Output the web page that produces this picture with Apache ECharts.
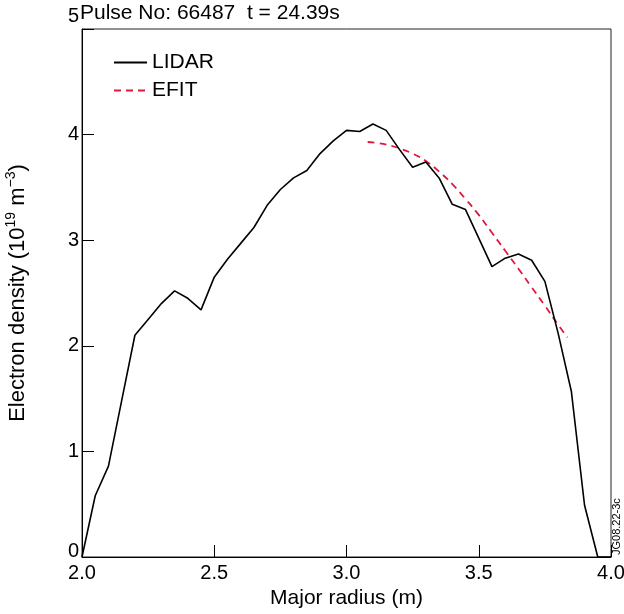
<!DOCTYPE html>
<html>
<head>
<meta charset="utf-8">
<title>Pulse No: 66487</title>
<script src="https://cdn.jsdelivr.net/npm/echarts@6/dist/echarts.min.js"></script>
<style>
  html, body { margin: 0; padding: 0; background: #fff; }
  #chart { width: 624px; height: 614px; }
</style>
</head>
<body>
<div id="chart"></div>
<script>
// LIDAR profile (major radius in m, density in 1e19 m^-3)
const lidarR = [2.00, 2.05, 2.10, 2.15, 2.20, 2.25, 2.30, 2.35, 2.40, 2.45,
  2.50, 2.55, 2.60, 2.65, 2.70, 2.75, 2.80, 2.85, 2.90, 2.95,
  3.00, 3.05, 3.10, 3.15, 3.20, 3.25, 3.30, 3.35, 3.40, 3.45,
  3.50, 3.55, 3.60, 3.65, 3.70, 3.75, 3.80, 3.85, 3.90, 3.95, 4.00]
const lidarNe = [0.00, 0.58, 0.86, 1.48, 2.10, 2.25, 2.40, 2.52, 2.45, 2.34,
  2.65, 2.82, 2.97, 3.12, 3.33, 3.48, 3.59, 3.66, 3.82, 3.94,
  4.04, 4.03, 4.10, 4.04, 3.86, 3.69, 3.74, 3.59, 3.34, 3.29,
  3.02, 2.75, 2.83, 2.87, 2.81, 2.61, 2.12, 1.57, 0.49, 0.00, 0.00]

// EFIT profile
const efitR = [3.08, 3.12, 3.16, 3.20, 3.25, 3.30, 3.35, 3.40, 3.45,
  3.50, 3.55, 3.60, 3.65, 3.70, 3.75, 3.80, 3.835]
const efitNe = [3.93, 3.92, 3.90, 3.87, 3.82, 3.75, 3.65, 3.53, 3.39,
  3.24, 3.07, 2.90, 2.73, 2.555, 2.38, 2.20, 2.08]

const xTicks = [2.0, 2.5, 3.0, 3.5, 4.0]
const yTicks = [0, 1, 2, 3, 4, 5]

const FONT = 'Liberation Sans'

let myChart = echarts.init(document.getElementById('chart'))

let option = {
  backgroundColor: '#fff',
  animation: false,
  textStyle: { fontFamily: FONT, color: '#000' },
  title: {
    text: 'Pulse No: 66487  t = 24.39s',
    left: 80,
    top: 3,
    padding: 0,
    textStyle: { fontFamily: FONT, fontSize: 21, fontWeight: 'normal', color: '#000' }
  },
  grid: {
    left: 82,
    right: 13,
    top: 29,
    bottom: 57,
    outerBoundsMode: 'none',
    containLabel: false,
    show: true,
    borderColor: '#222',
    borderWidth: 1
  },
  legend: {
    orient: 'vertical',
    left: 113,
    top: 52,
    padding: 0,
    itemWidth: 33,
    itemHeight: 14,
    itemGap: 7,
    itemStyle: { opacity: 0 },
    textStyle: { fontFamily: FONT, fontSize: 21, lineHeight: 21, color: '#000' },
    data: ['LIDAR', 'EFIT']
  },
  xAxis: {
    type: 'value',
    min: xTicks[0],
    max: xTicks[xTicks.length - 1],
    interval: 0.5,
    name: 'Major radius (m)',
    nameLocation: 'middle',
    nameGap: 28,
    nameTextStyle: { fontFamily: FONT, fontSize: 21, color: '#000' },
    axisLine: { lineStyle: { color: '#000', width: 1 } },
    axisTick: { inside: true, length: 12, lineStyle: { color: '#000' } },
    axisLabel: {
      fontFamily: FONT,
      fontSize: 20,
      color: '#000',
      margin: 6,
      formatter: (v) => v.toFixed(1)
    },
    splitLine: { show: false }
  },
  yAxis: {
    type: 'value',
    min: yTicks[0],
    max: yTicks[yTicks.length - 1],
    interval: 1,
    name: 'Electron density (10{sup|19} m{sup|\u22123})',
    nameLocation: 'middle',
    nameRotate: 90,
    nameGap: 50,
    nameTextStyle: {
      fontFamily: FONT,
      fontSize: 22,
      color: '#000',
      rich: {
        sup: { fontFamily: FONT, fontSize: 14, color: '#000', verticalAlign: 'top', lineHeight: 28 }
      }
    },
    axisLine: { lineStyle: { color: '#000', width: 1 } },
    axisTick: { inside: true, length: 12, lineStyle: { color: '#000' } },
    axisLabel: {
      fontFamily: FONT,
      fontSize: 20,
      color: '#000',
      margin: 3,
      formatter: function (v) {
        if (v === 0) return '{lo|0}'
        if (v === 5) return '{hi|5}'
        return v
      },
      rich: {
        lo: { fontFamily: FONT, fontSize: 20, color: '#000', padding: [0, 0, 11, 0] },
        hi: { fontFamily: FONT, fontSize: 20, color: '#000', padding: [0, 0, 26, 0] }
      }
    },
    splitLine: { show: false }
  },
  graphic: [
    {
      type: 'text',
      x: 611,
      y: 555,
      rotation: Math.PI / 2,
      style: {
        text: 'JG08.22-3c',
        fontFamily: FONT,
        fontSize: 11,
        fill: '#000',
        align: 'left',
        verticalAlign: 'top'
      }
    }
  ],
  series: [
    {
      name: 'LIDAR',
      type: 'line',
      symbol: 'none',
      data: lidarR.map((r, i) => [r, lidarNe[i]]),
      lineStyle: { color: '#000', width: 1.6 },
      itemStyle: { color: '#000' },
      z: 3
    },
    {
      name: 'EFIT',
      type: 'line',
      symbol: 'none',
      smooth: true,
      data: efitR.map((r, i) => [r, efitNe[i]]),
      lineStyle: { color: '#e3173e', width: 1.8, type: [7, 5] },
      itemStyle: { color: '#e3173e' },
      z: 2
    }
  ]
}

option && myChart.setOption(option)
</script>
</body>
</html>
